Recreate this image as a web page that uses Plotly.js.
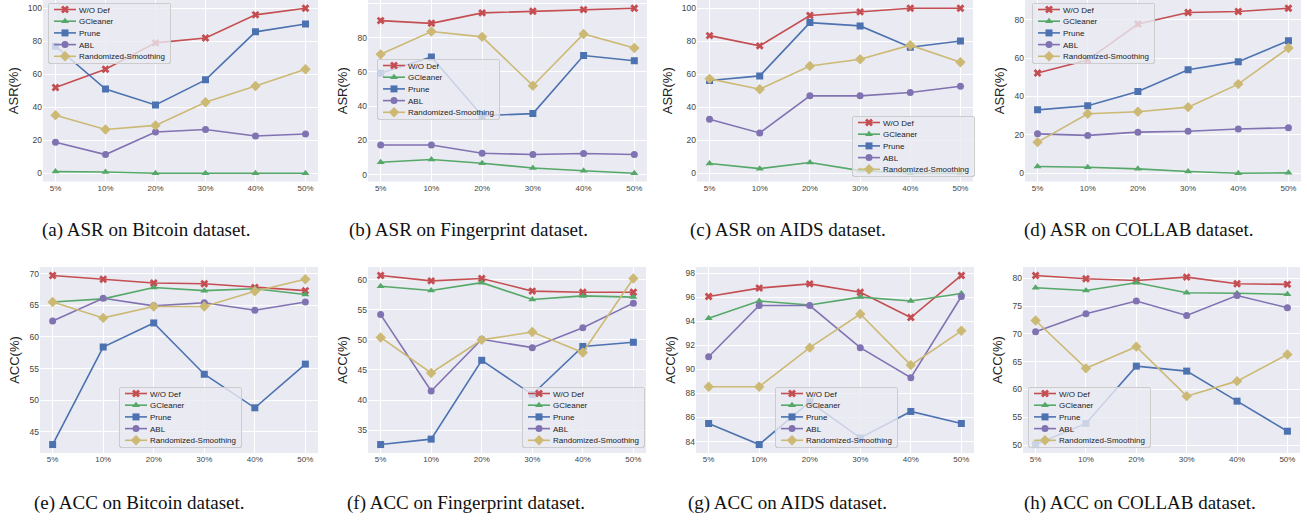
<!DOCTYPE html>
<html>
<head>
<meta charset="utf-8">
<script src="https://cdn.plot.ly/plotly-3.0.1.min.js"></script>
<style>html,body{margin:0;padding:0;background:#fff;}#chart{width:1307px;height:521px;}</style>
</head>
<body>
<div id="chart"></div>
<script>
// ---------- data ----------
const categories = ['5%', '10%', '20%', '30%', '40%', '50%'];
const methods = ['W/O Def', 'GCleaner', 'Prune', 'ABL', 'Randomized-Smoothing'];

// rows: W/O Def, GCleaner, Prune, ABL, Randomized-Smoothing
const asrBitcoin = [
  [52, 63, 79, 82, 96, 100],
  [1.0, 0.8, 0, 0, 0, 0],
  [77, 51, 41.4, 56.6, 85.7, 90.5],
  [18.8, 11.3, 25, 26.5, 22.6, 23.8],
  [35.2, 26.5, 29, 43, 52.9, 63]
];
const asrFingerprint = [
  [89.9, 88.3, 94.4, 95.3, 96.3, 97.1],
  [7.2, 8.8, 6.6, 3.9, 2.3, 0.8],
  [59.1, 68.7, 34.4, 35.6, 69.5, 66.5],
  [17.3, 17.3, 12.5, 11.7, 12.3, 11.7],
  [70.2, 83.5, 80.4, 51.9, 82.1, 73.9]
];
const asrAIDS = [
  [83.4, 77.2, 95.6, 97.8, 100, 100],
  [5.9, 2.8, 6.5, 1.6, 0, 0],
  [56.2, 59, 91.3, 89.3, 76.4, 80.2],
  [32.7, 24.4, 46.9, 46.9, 48.9, 52.7],
  [57.2, 50.9, 65, 69.1, 77.6, 67.3]
];
const asrCOLLAB = [
  [52.2, 59, 77.7, 83.7, 84.2, 85.9],
  [3.5, 3.1, 2.3, 0.9, 0, 0.2],
  [33, 35.1, 42.6, 53.9, 58.1, 69],
  [20.5, 19.7, 21.4, 21.9, 23, 23.7],
  [16.2, 31, 32, 34.4, 46.4, 65.2]
];
const accBitcoin = [
  [69.7, 69.1, 68.5, 68.4, 67.8, 67.3],
  [65.5, 66.0, 67.8, 67.3, 67.6, 66.7],
  [43.0, 58.4, 62.2, 54.1, 48.8, 55.7],
  [62.5, 66.1, 64.9, 65.4, 64.2, 65.5],
  [65.5, 63.0, 64.8, 64.8, 67.2, 69.1]
];
const accFingerprint = [
  [60.7, 59.8, 60.2, 58.1, 57.9, 57.9],
  [58.9, 58.2, 59.5, 56.7, 57.3, 57.1],
  [32.6, 33.5, 46.6, 40.9, 48.9, 49.6],
  [54.2, 41.5, 50.1, 48.7, 52.0, 56.1],
  [50.4, 44.5, 50.0, 51.3, 47.9, 60.2]
];
const accAIDS = [
  [96.05, 96.75, 97.1, 96.4, 94.3, 97.8],
  [94.25, 95.68, 95.35, 96.0, 95.68, 96.3],
  [85.5, 83.75, 87.3, 84.3, 86.5, 85.5],
  [91.05, 95.3, 95.3, 91.8, 89.3, 96.05],
  [88.55, 88.55, 91.8, 94.6, 90.35, 93.2]
];
const accCOLLAB = [
  [80.5, 79.9, 79.6, 80.2, 79.0, 78.9],
  [78.3, 77.8, 79.2, 77.4, 77.3, 77.1],
  [50.1, 53.9, 64.2, 63.3, 57.9, 52.5],
  [70.4, 73.6, 75.9, 73.3, 76.9, 74.7],
  [72.4, 63.8, 67.7, 58.8, 61.5, 66.3]
];

const captions = [
  '(a) ASR on Bitcoin dataset.', '(b) ASR on Fingerprint dataset.',
  '(c) ASR on AIDS dataset.', '(d) ASR on COLLAB dataset.',
  '(e) ACC on Bitcoin dataset.', '(f) ACC on Fingerprint dataset.',
  '(g) ACC on AIDS dataset.', '(h) ACC on COLLAB dataset.'
];
const yTitles = ['ASR(%)', 'ASR(%)', 'ASR(%)', 'ASR(%)', 'ACC(%)', 'ACC(%)', 'ACC(%)', 'ACC(%)'];
const panelData = [asrBitcoin, asrFingerprint, asrAIDS, asrCOLLAB, accBitcoin, accFingerprint, accAIDS, accCOLLAB];

// ---------- style / layout ----------
const colors = ['#C44E52', '#55A868', '#4C72B0', '#8172B2', '#CCB974'];
const symbols = ['x', 'triangle-up', 'square', 'circle', 'diamond'];
const msizes = [7, 7, 7, 7, 8];
const W = 1307, H = 521;
// plot-area pixel boxes [left, right, top, bottom]
const boxes = [
  [43, 318, 0, 181.5], [368, 647, 0, 181.5], [697, 973, 0, 181.5], [1025, 1301, 0, 181.5],
  [40, 318, 267, 453], [368, 646, 267, 453], [696, 974, 267, 453], [1023, 1300, 267, 453]
];
const dticks = [20, 20, 20, 20, 5, 5, 2, 5];
// legend top-left pixel anchors
const legendPos = [
  [48, 3], [377, 59], [852, 116], [1032, 3],
  [119, 387], [522, 387], [775, 387], [1028, 387]
];
const captionX = [146, 468, 788, 1139, 139, 466, 787, 1140];
const captionY = [230, 230, 230, 230, 503, 503, 503, 503];

const font = 'Liberation Sans, Arial, sans-serif';
const traces = [];
const layout = {
  width: W, height: H,
  margin: {l: 0, r: 0, t: 0, b: 0},
  paper_bgcolor: '#ffffff',
  plot_bgcolor: '#EAEAF2',
  font: {family: font, color: '#333'},
  annotations: []
};

panelData.forEach((rows, p) => {
  const n = p + 1;
  const xa = n === 1 ? 'x' : 'x' + n;
  const ya = n === 1 ? 'y' : 'y' + n;
  const lg = n === 1 ? 'legend' : 'legend' + n;
  rows.forEach((vals, s) => {
    traces.push({
      type: 'scatter', mode: 'lines+markers',
      x: categories, y: vals, name: methods[s],
      xaxis: xa, yaxis: ya, legend: lg,
      line: {color: colors[s], width: 1.6},
      marker: {color: colors[s], symbol: symbols[s], size: msizes[s], line: {width: 0}},
      hoverinfo: 'x+y+name'
    });
  });
  const all = rows.flat();
  const mn = Math.min(...all), mx = Math.max(...all);
  const pad = (mx - mn) * 0.05;
  const b = boxes[p];
  layout[n === 1 ? 'xaxis' : 'xaxis' + n] = {
    domain: [b[0] / W, b[1] / W], anchor: ya,
    type: 'category', range: [-0.25, 5.25],
    showgrid: true, gridcolor: '#ffffff', gridwidth: 1.2,
    zeroline: false, showline: false, ticks: '',
    tickfont: {size: 8, color: '#444', family: font},
    automargin: false
  };
  layout[n === 1 ? 'yaxis' : 'yaxis' + n] = {
    domain: [1 - b[3] / H, 1 - b[2] / H], anchor: xa,
    range: [mn - pad, mx + pad], dtick: dticks[p], tick0: 0,
    showgrid: true, gridcolor: '#ffffff', gridwidth: 1.2,
    zeroline: false, showline: false, ticks: '',
    tickfont: {size: 8.5, color: '#444', family: font},
    title: {text: yTitles[p], font: {size: 13, color: '#222', family: font}, standoff: 6},
    automargin: false
  };
  const lp = legendPos[p];
  layout[lg] = {
    x: lp[0] / W, y: 1 - lp[1] / H, xanchor: 'left', yanchor: 'top',
    xref: 'paper', yref: 'paper',
    bgcolor: 'rgba(234,234,242,0.8)', bordercolor: '#cccccc', borderwidth: 1,
    font: {size: 8, color: '#222', family: font},
    tracegroupgap: 0, itemwidth: 30
  };
  layout.annotations.push({
    text: captions[p], xref: 'paper', yref: 'paper',
    x: captionX[p] / W, y: 1 - captionY[p] / H, xanchor: 'center', yanchor: 'middle',
    showarrow: false, font: {family: 'Liberation Serif, Times New Roman, serif', size: 19, color: '#111'}
  });
});

// compact the legend rows (matplotlib-like spacing) after Plotly has drawn them; idempotent
function compactLegends() {
  const FIRST = 6.5, STEP = 11.7, LAST = 6.5, SHIFT = 10;
  const groups = Array.from(document.querySelectorAll('#chart g.infolayer > g'))
    .filter(g => /^legend\d*$/.test(g.getAttribute('class') || ''));
  groups.forEach(lg => {
    const items = lg.querySelectorAll('g.traces');
    if (!items.length) return;
    items.forEach((it, i) => {
      if (!it.dataset.origX) {
        const tr = it.getAttribute('transform') || '';
        const m = tr.match(/translate\(\s*([-\d.e]+)/);
        it.dataset.origX = m ? m[1] : '0';
      }
      const x0 = parseFloat(it.dataset.origX) - SHIFT;
      it.setAttribute('transform', 'translate(' + x0 + ',' + (FIRST + i * STEP) + ')');
      const ln = it.querySelector('g.legendlines path');
      if (ln) ln.setAttribute('d', 'M' + (5 + SHIFT) + ',0h22');
      it.querySelectorAll('g.legendsymbols path.scatterpts')
        .forEach(pt => pt.setAttribute('transform', 'translate(' + (16 + SHIFT) + ',0)'));
      const tg = it.querySelector('rect.legendtoggle');
      if (tg) { tg.setAttribute('height', STEP); tg.setAttribute('y', -STEP / 2); }
    });
    const bg = lg.querySelector('rect.bg');
    if (bg) {
      if (!bg.dataset.origW) bg.dataset.origW = bg.getAttribute('width');
      const w = parseFloat(bg.dataset.origW);
      bg.setAttribute('height', FIRST + (items.length - 1) * STEP + LAST);
      bg.setAttribute('width', w - SHIFT);
      bg.setAttribute('rx', 2); bg.setAttribute('ry', 2);
    }
  });
}

Plotly.newPlot('chart', traces, layout, {displayModeBar: false}).then(gd => {
  compactLegends();
  gd.on('plotly_afterplot', compactLegends);
  setTimeout(compactLegends, 200);
});
</script>
</body>
</html>
